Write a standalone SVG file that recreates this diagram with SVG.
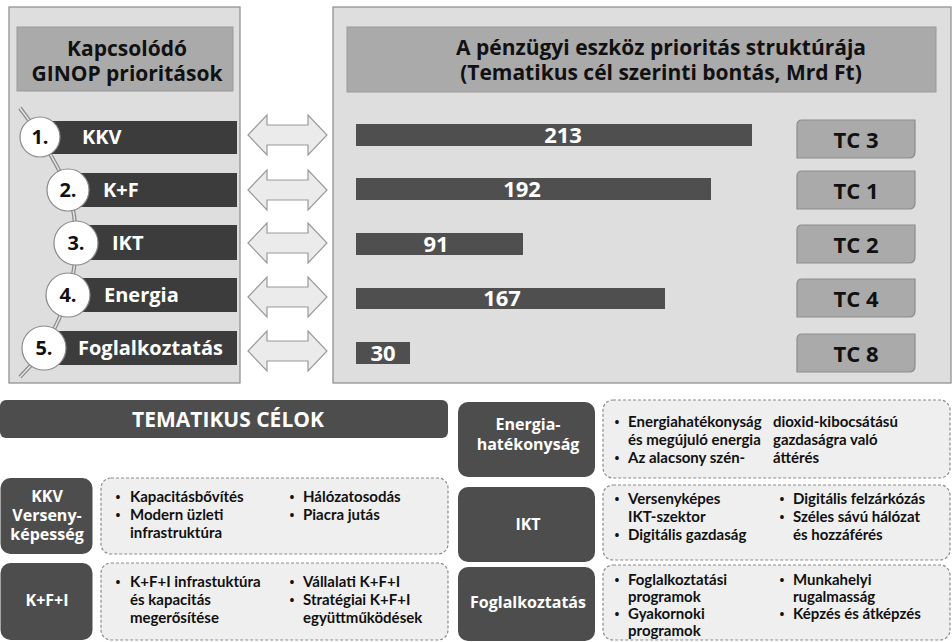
<svg xmlns="http://www.w3.org/2000/svg" width="952" height="642" viewBox="0 0 952 642">
<style>
.t{font-family:"Open Sans","Liberation Sans",sans-serif;font-weight:700}
.panel{fill:#dedede;stroke:#8a8a8a;stroke-width:1.2}
.hdr{fill:#aaaaaa;stroke:#9a9a9a;stroke-width:1}
.hdrtxt{font-size:21px;fill:#111;text-anchor:middle}
.lbar{fill:#3c3c3c}
.lbtxt{font-size:20px;fill:#fff}
.circ{fill:#fff;stroke:#8a8a8a;stroke-width:1.2}
.ctxt{font-size:20px;fill:#111;text-anchor:middle}
.arr{fill:#ebebeb;stroke:#9a9a9a;stroke-width:1.2}
.rbar{fill:#4f4f4f}
.num{font-size:22px;fill:#fff;text-anchor:middle}
.tc{fill:#aaaaaa;stroke:#8c8c8c;stroke-width:1.2}
.tctxt{font-size:22px;fill:#111;text-anchor:middle}
.dark{fill:#4d4d4d}
.dtxt{font-size:16px;fill:#fff;text-anchor:middle}
.dash{fill:#efefef;stroke:#8c8c8c;stroke-width:1.2;stroke-dasharray:3 2}
.b{font-family:Lato,"Open Sans",sans-serif;font-size:15px;fill:#111}
.bul{font-size:13px;fill:#111;text-anchor:middle}
</style>
<defs>
<path id="arrow" d="M0,0 L19,-20 L19,-10 L60,-10 L60,-20 L79,0 L60,20 L60,10 L19,10 L19,20 Z"/>
<path id="tcbox" d="M5,0 H118 V32 Q118,38 112,38 H0 V5 Q0,0 5,0 Z"/>
</defs>
<rect width="952" height="642" fill="#fff"/>

<g id="left-panel">
<rect class="panel" x="9" y="7" width="231" height="376"/>
<rect class="hdr" x="17" y="27" width="216" height="64"/>
<text class="t hdrtxt" x="127" y="56">Kapcsolódó</text>
<text class="t hdrtxt" x="127" y="81">GINOP prioritások</text>
</g>

<g id="right-panel">
<rect class="panel" x="333" y="7" width="618" height="376"/>
<rect class="hdr" x="347" y="27" width="589" height="65"/>
<text class="t hdrtxt" x="661" y="55">A pénzügyi eszköz prioritás struktúrája</text>
<text class="t hdrtxt" x="661" y="80">(Tematikus cél szerinti bontás, Mrd Ft)</text>
</g>

<g id="chain">
<path d="M20,108 C23.3,112.8 32,123.3 40,137 C48,150.7 62,172.3 68,190 C74,207.7 76,225.5 76,243 C76,260.5 73.3,277.5 68,295 C62.7,312.5 52,334.3 44,348 C36,361.7 24,372.2 20,377" fill="none" stroke="#8a8a8a" stroke-width="4"/>
<path d="M20,108 C23.3,112.8 32,123.3 40,137 C48,150.7 62,172.3 68,190 C74,207.7 76,225.5 76,243 C76,260.5 73.3,277.5 68,295 C62.7,312.5 52,334.3 44,348 C36,361.7 24,372.2 20,377" fill="none" stroke="#e4e4e4" stroke-width="1.5"/>
</g>

<g id="prio-1">
<rect class="lbar" x="40" y="121" width="197" height="33"/>
<circle class="circ" cx="40" cy="137" r="20"/>
<text class="t ctxt" x="40" y="144">1.</text>
<text class="t lbtxt" x="82" y="144">KKV</text>
</g>
<g id="prio-2">
<rect class="lbar" x="68" y="173" width="169" height="34"/>
<circle class="circ" cx="68" cy="190" r="21"/>
<text class="t ctxt" x="68" y="197">2.</text>
<text class="t lbtxt" x="103" y="197">K+F</text>
</g>
<g id="prio-3">
<rect class="lbar" x="76" y="225" width="161" height="35"/>
<circle class="circ" cx="76" cy="243" r="22"/>
<text class="t ctxt" x="76" y="250">3.</text>
<text class="t lbtxt" x="112" y="250">IKT</text>
</g>
<g id="prio-4">
<rect class="lbar" x="68" y="278" width="169" height="34"/>
<circle class="circ" cx="68" cy="295" r="22"/>
<text class="t ctxt" x="68" y="302">4.</text>
<text class="t lbtxt" x="104" y="302">Energia</text>
</g>
<g id="prio-5">
<rect class="lbar" x="44" y="331" width="193" height="34"/>
<circle class="circ" cx="44" cy="348" r="22"/>
<text class="t ctxt" x="44" y="355">5.</text>
<text class="t lbtxt" x="78" y="355">Foglalkoztatás</text>
</g>

<g id="connectors">
<use href="#arrow" class="arr" x="248" y="135"/>
<use href="#arrow" class="arr" x="248" y="190"/>
<use href="#arrow" class="arr" x="248" y="243"/>
<use href="#arrow" class="arr" x="248" y="297"/>
<use href="#arrow" class="arr" x="248" y="351"/>
</g>

<g id="bar-213">
<rect class="rbar" x="356" y="124" width="396" height="22"/>
<text class="t num" x="563" y="143">213</text>
</g>
<g id="bar-192">
<rect class="rbar" x="356" y="178" width="355" height="22"/>
<text class="t num" x="522" y="197">192</text>
</g>
<g id="bar-91">
<rect class="rbar" x="356" y="233" width="167" height="22"/>
<text class="t num" x="436" y="252">91</text>
</g>
<g id="bar-167">
<rect class="rbar" x="356" y="288" width="309" height="21"/>
<text class="t num" x="502" y="306">167</text>
</g>
<g id="bar-30">
<rect class="rbar" x="356" y="342" width="54" height="22"/>
<text class="t num" x="383" y="361">30</text>
</g>

<g id="tc3"><use href="#tcbox" class="tc" x="797" y="120"/><text class="t tctxt" x="856" y="148">TC 3</text></g>
<g id="tc1"><use href="#tcbox" class="tc" x="797" y="171"/><text class="t tctxt" x="856" y="199">TC 1</text></g>
<g id="tc2"><use href="#tcbox" class="tc" x="797" y="225"/><text class="t tctxt" x="856" y="253">TC 2</text></g>
<g id="tc4"><use href="#tcbox" class="tc" x="797" y="279"/><text class="t tctxt" x="856" y="307">TC 4</text></g>
<g id="tc8"><use href="#tcbox" class="tc" x="797" y="334"/><text class="t tctxt" x="856" y="362">TC 8</text></g>

<g id="tematikus-header">
<rect class="dark" x="0" y="400" width="448" height="38" rx="6"/>
<text class="t" x="228" y="427" font-size="21" fill="#fff" text-anchor="middle">TEMATIKUS CÉLOK</text>
</g>

<g id="kkv">
<rect class="dark" x="0.5" y="478" width="92" height="76" rx="10"/>
<text class="t dtxt" x="47" y="502">KKV</text>
<text class="t dtxt" x="47" y="521">Verseny-</text>
<text class="t dtxt" x="47" y="540">képesség</text>
<rect class="dash" x="101" y="478" width="347" height="76" rx="10"/>
<text class="t bul" x="118" y="502">•</text><text class="t b" x="130" y="502">Kapacitásbővítés</text>
<text class="t bul" x="118" y="520">•</text><text class="t b" x="130" y="520">Modern üzleti</text>
<text class="t b" x="130" y="538">infrastruktúra</text>
<text class="t bul" x="292" y="502">•</text><text class="t b" x="303" y="502">Hálózatosodás</text>
<text class="t bul" x="292" y="520">•</text><text class="t b" x="303" y="520">Piacra jutás</text>
</g>

<g id="kfi">
<rect class="dark" x="0.5" y="563" width="92" height="77" rx="10"/>
<text class="t dtxt" x="47" y="606">K+F+I</text>
<rect class="dash" x="101" y="563" width="347" height="77" rx="10"/>
<text class="t bul" x="118" y="587">•</text><text class="t b" x="130" y="587">K+F+I infrastuktúra</text>
<text class="t b" x="130" y="605">és kapacitás</text>
<text class="t b" x="130" y="623">megerősítése</text>
<text class="t bul" x="292" y="587">•</text><text class="t b" x="303" y="587">Vállalati K+F+I</text>
<text class="t bul" x="292" y="605">•</text><text class="t b" x="303" y="605">Stratégiai K+F+I</text>
<text class="t b" x="303" y="623">együttműködések</text>
</g>

<g id="energia">
<rect class="dark" x="458" y="402" width="137" height="75" rx="10"/>
<text class="t dtxt" x="528" y="430">Energia-</text>
<text class="t dtxt" x="528" y="450">hatékonyság</text>
<rect class="dash" x="603" y="400" width="347" height="78" rx="10"/>
<text class="t bul" x="617" y="427">•</text><text class="t b" x="628" y="427">Energiahatékonyság</text>
<text class="t b" x="628" y="445">és megújuló energia</text>
<text class="t bul" x="617" y="463">•</text><text class="t b" x="628" y="463">Az alacsony szén-</text>
<text class="t b" x="773" y="427">dioxid-kibocsátású</text>
<text class="t b" x="773" y="445">gazdaságra való</text>
<text class="t b" x="773" y="463">áttérés</text>
</g>

<g id="ikt">
<rect class="dark" x="458" y="487" width="137" height="75" rx="10"/>
<text class="t dtxt" x="528" y="530">IKT</text>
<rect class="dash" x="603" y="485" width="347" height="75" rx="10"/>
<text class="t bul" x="617" y="504">•</text><text class="t b" x="628" y="504">Versenyképes</text>
<text class="t b" x="628" y="522">IKT-szektor</text>
<text class="t bul" x="617" y="540">•</text><text class="t b" x="628" y="540">Digitális gazdaság</text>
<text class="t bul" x="782" y="504">•</text><text class="t b" x="793" y="504">Digitális felzárkózás</text>
<text class="t bul" x="782" y="522">•</text><text class="t b" x="793" y="522">Széles sávú hálózat</text>
<text class="t b" x="793" y="540">és hozzáférés</text>
</g>

<g id="foglalkoztatas">
<rect class="dark" x="458" y="567" width="137" height="74" rx="10"/>
<text class="t dtxt" x="528" y="608">Foglalkoztatás</text>
<rect class="dash" x="603" y="565" width="347" height="75" rx="10"/>
<text class="t bul" x="617" y="585">•</text><text class="t b" x="628" y="585">Foglalkoztatási</text>
<text class="t b" x="628" y="602">programok</text>
<text class="t bul" x="617" y="619">•</text><text class="t b" x="628" y="619">Gyakornoki</text>
<text class="t b" x="628" y="636">programok</text>
<text class="t bul" x="782" y="585">•</text><text class="t b" x="793" y="585">Munkahelyi</text>
<text class="t b" x="793" y="602">rugalmasság</text>
<text class="t bul" x="782" y="619">•</text><text class="t b" x="793" y="619">Képzés és átképzés</text>
</g>
</svg>
